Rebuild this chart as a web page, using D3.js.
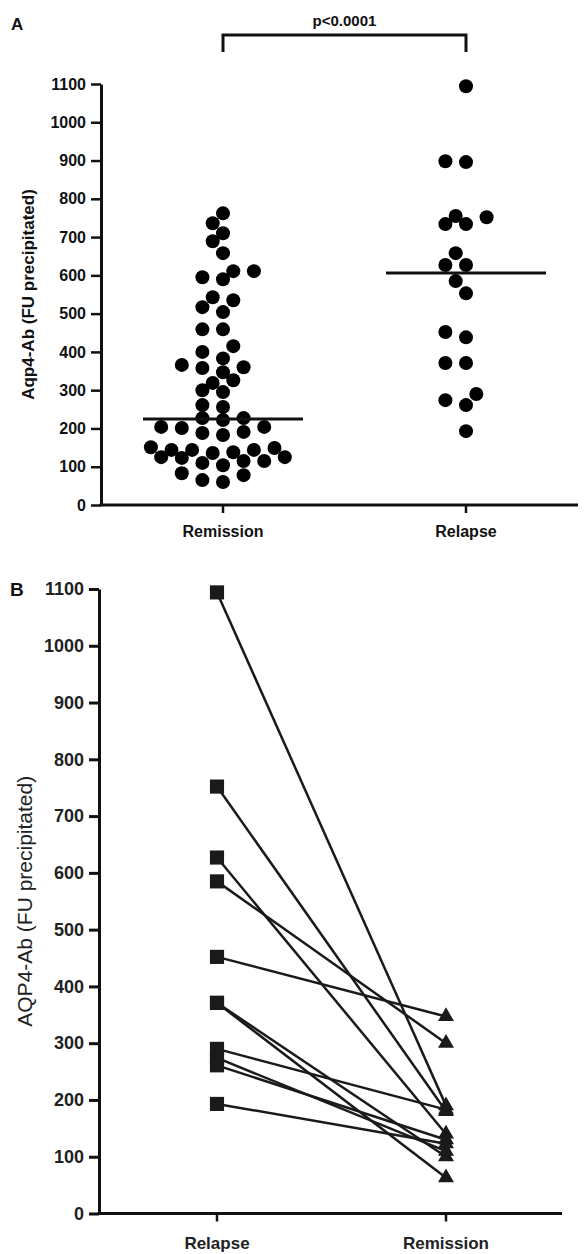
<!DOCTYPE html>
<html><head><meta charset="utf-8">
<script src="https://cdnjs.cloudflare.com/ajax/libs/d3/7.8.5/d3.min.js"></script>
<style>
html,body{margin:0;padding:0;background:#fff;}
svg{display:block;font-family:"Liberation Sans",Arial,sans-serif;}
</style></head>
<body>
<script>
// ---------- DATA ----------
const categoriesA = ["Remission", "Relapse"];
const remissionValues = [762, 736, 710, 689, 658, 611, 611, 595, 590, 543, 535, 517, 504, 459, 459, 415, 400, 383, 366, 360, 358, 347, 326, 319, 300, 295, 261, 256,
  227, 227, 222, 204, 204, 201, 191, 188, 183,
  151, 149, 144, 144, 144, 138, 136, 125, 125, 123, 115, 115, 110, 104,
  83, 78, 65, 60];
const relapseValues = [1094, 898, 896, 755, 752, 734, 734, 658, 627, 627, 585, 553, 452, 438, 371, 371, 290, 274, 261, 193];
const medianLines = [225, 606];
const pValueText = "p<0.0001";
const yTicks = [0, 100, 200, 300, 400, 500, 600, 700, 800, 900, 1000, 1100];
const categoriesB = ["Relapse", "Remission"];
const pairedRelapse = [1094, 752, 627, 585, 452, 371, 371, 290, 274, 261, 193];
const pairedRemission = [190, 180, 140, 300, 347, 100, 63, 183, 110, 130, 123];
const yTitleA = "Aqp4-Ab (FU precipitated)";
const yTitleB = "AQP4-Ab (FU precipitated)";

// ---------- SETUP ----------
const W = 586, H = 1254;
const svg = d3.select("body").append("svg").attr("width", W).attr("height", H);
const ink = "#111";
const fmt = d3.format("d");

// ---------- PANEL A ----------
const axA = {left: 101, right: 578, top: 84, bottom: 505};
const yA = d3.scaleLinear().domain([0, 1100]).range([axA.bottom, axA.top]);
const xA = d3.scalePoint().domain(categoriesA).range([223, 466]);

const gA = svg.append("g");
const yAxisA = d3.axisLeft(yA).tickValues(yTicks).tickFormat(fmt).tickSize(10).tickSizeOuter(0).tickPadding(5);
gA.append("g").attr("transform", `translate(${axA.left},0)`).call(yAxisA)
  .call(g => g.select(".domain").attr("stroke", ink).attr("stroke-width", 3))
  .call(g => g.selectAll(".tick line").attr("stroke", ink).attr("stroke-width", 2.5))
  .call(g => g.selectAll(".tick text").attr("fill", ink).attr("font-size", 16).attr("font-weight", "bold").attr("font-family", "Liberation Sans, Arial, sans-serif"));
// x axis
gA.append("line").attr("x1", axA.left - 1.5).attr("x2", axA.right).attr("y1", axA.bottom).attr("y2", axA.bottom)
  .attr("stroke", ink).attr("stroke-width", 3);
categoriesA.forEach(c => {
  gA.append("line").attr("x1", xA(c)).attr("x2", xA(c)).attr("y1", axA.bottom).attr("y2", axA.bottom + 8)
    .attr("stroke", ink).attr("stroke-width", 2.5);
  gA.append("text").attr("x", xA(c)).attr("y", 537).attr("text-anchor", "middle")
    .attr("font-size", 16).attr("font-weight", "bold").attr("fill", ink).text(c);
});
gA.append("text").attr("transform", `translate(34,${(axA.top + axA.bottom) / 2}) rotate(-90)`)
  .attr("text-anchor", "middle").attr("font-size", 17).attr("font-weight", "bold").attr("fill", ink).text(yTitleA);
gA.append("text").attr("x", 11).attr("y", 30).attr("font-size", 17).attr("font-weight", "bold").attr("fill", ink).text("A");

// beeswarm layout (greedy, grid-like horizontal steps)
function swarm(values, cx, yScale, step, minD) {
  const out = [];
  const sorted = values.slice().sort((a, b) => a - b);
  sorted.forEach(v => {
    const y = yScale(v);
    for (let k = 0; k < 60; k++) {
      const off = (k === 0 ? 0 : (k % 2 ? -1 : 1) * Math.ceil(k / 2)) * step;
      const x = cx + off;
      if (out.every(q => (q.x - x) ** 2 + (q.y - y) ** 2 >= minD * minD)) { out.push({v, x, y}); break; }
    }
  });
  return out;
}
const r = 7;
const groupsA = [remissionValues, relapseValues];
groupsA.forEach((vals, i) => {
  const pts = swarm(vals, xA(categoriesA[i]), yA, 10.3, 12.5);
  gA.append("g").selectAll("circle").data(pts).join("circle")
    .attr("cx", d => d.x).attr("cy", d => d.y).attr("r", r).attr("fill", "#000");
  gA.append("line").attr("x1", xA(categoriesA[i]) - 80).attr("x2", xA(categoriesA[i]) + 80)
    .attr("y1", yA(medianLines[i])).attr("y2", yA(medianLines[i]))
    .attr("stroke", ink).attr("stroke-width", 3);
});
// significance bracket
const bx1 = xA(categoriesA[0]), bx2 = xA(categoriesA[1]);
gA.append("path").attr("d", `M${bx1},52V35H${bx2}V52`).attr("fill", "none").attr("stroke", ink).attr("stroke-width", 3);
gA.append("text").attr("x", (bx1 + bx2) / 2).attr("y", 26).attr("text-anchor", "middle")
  .attr("font-size", 15).attr("font-weight", "bold").attr("fill", ink).text(pValueText);

// ---------- PANEL B ----------
const axB = {left: 99, right: 562, top: 589, bottom: 1213.5};
const yB = d3.scaleLinear().domain([0, 1100]).range([axB.bottom, axB.top]);
const xB = d3.scalePoint().domain(categoriesB).range([217, 446]);
const gB = svg.append("g");
const yAxisB = d3.axisLeft(yB).tickValues(yTicks).tickFormat(fmt).tickSize(10).tickSizeOuter(0).tickPadding(5);
gB.append("g").attr("transform", `translate(${axB.left},0)`).call(yAxisB)
  .call(g => g.select(".domain").attr("stroke", ink).attr("stroke-width", 3))
  .call(g => g.selectAll(".tick text").attr("fill", "#222").attr("font-size", 18).attr("font-weight", "bold").attr("font-family", "Liberation Sans, Arial, sans-serif"))
  .call(g => g.selectAll(".tick line").attr("stroke", ink).attr("stroke-width", 3));
gB.append("line").attr("x1", axB.left - 1.5).attr("x2", axB.right).attr("y1", axB.bottom).attr("y2", axB.bottom)
  .attr("stroke", ink).attr("stroke-width", 3);
categoriesB.forEach(c => {
  gB.append("line").attr("x1", xB(c)).attr("x2", xB(c)).attr("y1", axB.bottom).attr("y2", axB.bottom + 8)
    .attr("stroke", ink).attr("stroke-width", 2.5);
  gB.append("text").attr("x", xB(c)).attr("y", 1249).attr("text-anchor", "middle")
    .attr("font-size", 17).attr("font-weight", "bold").attr("fill", "#222").text(c);
});
gB.append("text").attr("transform", `translate(32,${(axB.top + axB.bottom) / 2}) rotate(-90)`)
  .attr("text-anchor", "middle").attr("font-size", 21).attr("fill", "#222").text(yTitleB);
gB.append("text").attr("x", 10).attr("y", 596).attr("font-size", 19).attr("font-weight", "bold").attr("fill", ink).text("B");

const pairs = pairedRelapse.map((v, i) => ({a: v, b: pairedRemission[i]}));
gB.append("g").selectAll("line").data(pairs).join("line")
  .attr("x1", xB(categoriesB[0])).attr("y1", d => yB(d.a))
  .attr("x2", xB(categoriesB[1])).attr("y2", d => yB(d.b))
  .attr("stroke", "#1a1a1a").attr("stroke-width", 2.5);
const sq = d3.symbol().type(d3.symbolSquare).size(200);
const tri = d3.symbol().type(d3.symbolTriangle).size(110);
gB.append("g").selectAll("path").data(pairs).join("path")
  .attr("d", sq).attr("transform", d => `translate(${xB(categoriesB[0])},${yB(d.a)})`).attr("fill", "#1a1a1a");
gB.append("g").selectAll("path").data(pairs).join("path")
  .attr("d", tri).attr("transform", d => `translate(${xB(categoriesB[1])},${yB(d.b)})`).attr("fill", "#1a1a1a");
</script>
</body></html>
